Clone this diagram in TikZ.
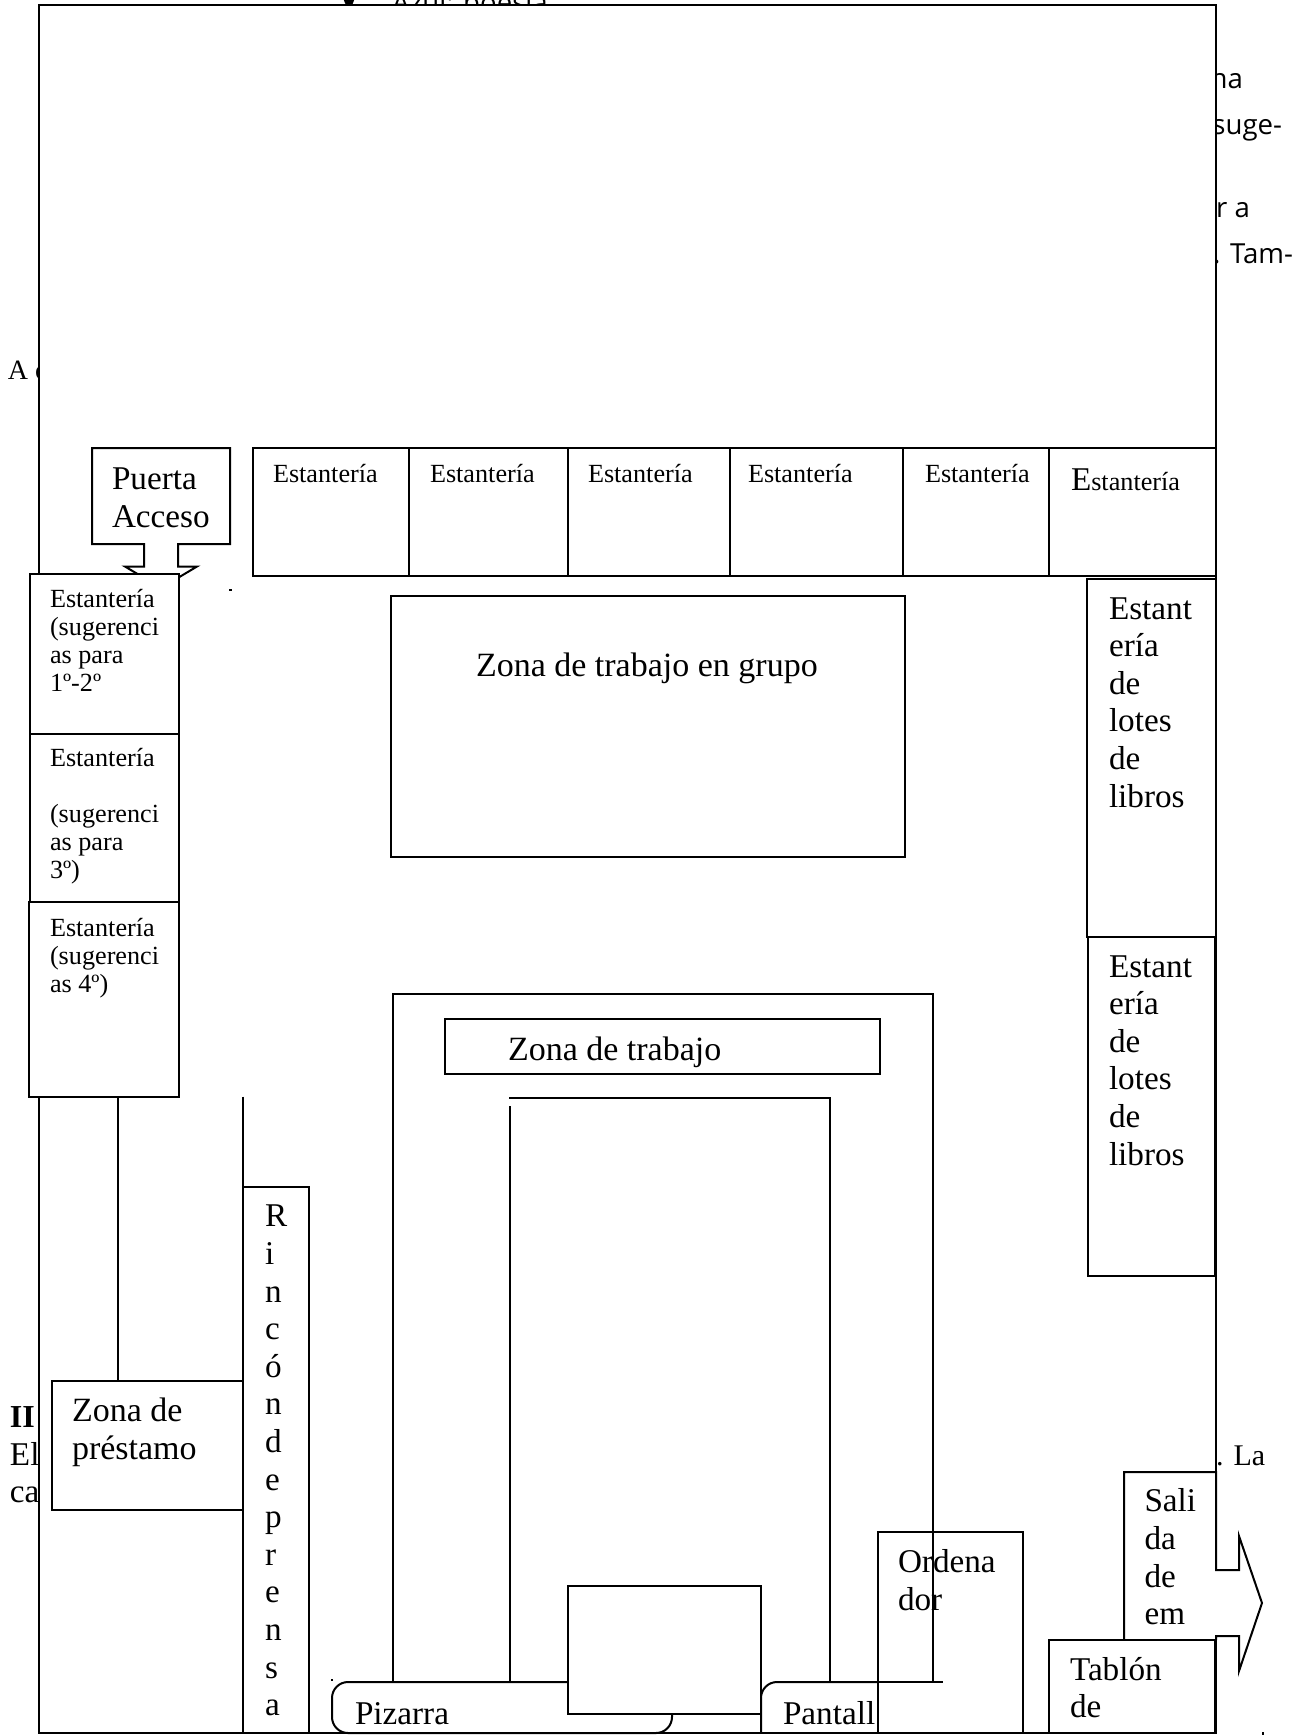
\documentclass[tikz,border=0pt]{standalone}
\usepackage{fontspec}
\setmainfont{Liberation Serif}
\newfontfamily\bodysans{Open Sans}
\tikzset{
  plan/.style={draw=black,line width=1pt,fill=white,line join=miter},
  wall/.style={draw=black,line width=1pt},
  big/.style={inner sep=0pt,outer sep=0pt,anchor=base west,align=left,font=\fontsize{16.6}{18.8}\selectfont},
  small/.style={inner sep=0pt,outer sep=0pt,anchor=base west,align=left,font=\fontsize{13.1}{14}\selectfont},
  frag/.style={inner sep=0pt,outer sep=0pt,anchor=base east,font=\bodysans\fontsize{13.8}{14}\selectfont}
}
\begin{document}
\begin{tikzpicture}[x=0.5pt,y=-0.5pt]
\useasboundingbox (0,0) rectangle (1306,1735);
% text of the page behind the plan
\fill[black] (349,0) circle (2.6pt);
\node[frag,anchor=base west] (azul) at (392,12) {Azul: poesía};
\node[frag] (na) at (1243,88) {una};
\node[frag] (suge) at (1282,134) {suge-};
\node[frag] (ra) at (1250,217) {ar a};
\node[frag] (tam) at (1293,263) {s. Tam-};
\node[big,font=\fontsize{14}{18.8}\selectfont] (aa) at (8,379) {A c};
\node[big,font=\fontsize{16}{18.8}\selectfont\bfseries] (ii) at (10,1427.7) {II};
\node[big] (el) at (10,1465.7) {El};
\node[big] (ca) at (10,1502.7) {ca};
\node[big,font=\fontsize{15}{18.8}\selectfont] (la) at (1216,1465.7) {. La};
% room
\draw[plan] (39,5) rectangle (1216,1733);
% door
\draw[plan] (92,448) -- (230,448) -- (230,544) -- (178,544) -- (178,566.5) -- (197,566.5) -- (161,588) -- (125,566.5) -- (144,566.5) -- (144,544) -- (92,544) -- cycle;
\node[big] (puerta) at (112,527) {Puerta\\Acceso};
% top shelves
\draw[plan] (253,448) rectangle (409,576);
\draw[plan] (409,448) rectangle (567.5,576);
\draw[plan] (567.5,448) rectangle (730,576);
\draw[plan] (730,448) rectangle (903,576);
\draw[plan] (903,448) rectangle (1049,576);
\draw[plan] (1049,448) rectangle (1216,576);
\node[small] (e1) at (273,482) {Estantería};
\node[small] (e2) at (430,482) {Estantería};
\node[small] (e3) at (588,482) {Estantería};
\node[small] (e4) at (748,482) {Estantería};
\node[small] (e5) at (925,482) {Estantería};
\node[small] (e6) at (1071,490) {{\fontsize{16.6}{14}\selectfont E}stantería};
% left shelves
\draw[plan] (30,574) rectangle (179,733.5);
\draw[plan] (30,733.5) rectangle (179,902);
\draw[plan] (29,902) rectangle (179,1096.5);
\node[small] (l1) at (50,691) {Estantería\\(sugerenci\\as para\\1º-2º};
\node[small] (l2) at (50,878.4) {Estantería\\[14pt](sugerenci\\as para\\3º)};
\node[small] (l3) at (50,992.4) {Estantería\\(sugerenci\\as 4º)};
\fill[black] (229,589) rectangle (232,591);
% right shelves
\draw[plan] (1087,578.7) rectangle (1216,937);
\draw[plan] (1088,937) rectangle (1215,1276);
\node[big] (r1) at (1109,807) {Estant\\ería\\de\\lotes\\de\\libros};
\node[big] (r2) at (1109,1165) {Estant\\ería\\de\\lotes\\de\\libros};
% work zones
\draw[plan] (391,596) rectangle (905,856.5);
\node[big,font=\fontsize{17}{18.8}\selectfont] (grupo) at (476,676) {Zona de trabajo en grupo};
\draw[wall] (393,1682) -- (393,994) -- (933,994) -- (933,1682);
\draw[plan] (445,1019) rectangle (880,1074);
\node[big,font=\fontsize{17}{18.8}\selectfont] (trabajo) at (508,1060) {Zona de trabajo};
\draw[wall] (509,1097.6) -- (830,1097.6) -- (830,1682);
\draw[wall] (510,1106) -- (510,1682);
% lines from the shelves down
\draw[wall] (118,1096.5) -- (118,1381);
\draw[wall] (243,1096.5) -- (243,1187);
% lending zone and press corner
\draw[plan] (52,1381) rectangle (243,1510);
\node[big,font=\fontsize{17}{18.8}\selectfont] (prest) at (72,1459) {Zona de\\préstamo};
\draw[plan] (243,1187) rectangle (309,1733);
\node[big] (rincon) at (265,1715.7) {R\\i\\n\\c\\ó\\n\\d\\e\\p\\r\\e\\n\\s\\a};
% board, central box, screen
\fill[black] (331,1679) rectangle (333,1681);
\draw[plan,rounded corners=8pt] (332,1733) -- (332,1682) -- (672,1682) -- (672,1733) -- cycle;
\node[big] (pizarra) at (355,1724) {Pizarra};
\draw[plan,rounded corners=8pt] (761,1733) -- (761,1682) -- (878,1682);
\draw[wall] (761,1733) -- (878,1733);
\draw[plan] (568,1586) rectangle (761,1714);
\node[big] (pantalla) at (783,1724) {Pantall};
\draw[wall] (830,1682) -- (943,1682);
% computer
\draw[wall] (878,1733) -- (878,1532) -- (1023,1532) -- (1023,1733);
\node[big] (orden) at (898,1610) {Ordena\\dor};
% exit and notice board
\draw[plan] (1124,1640) -- (1124,1472) -- (1216,1472) -- (1216,1570) -- (1239,1570) -- (1239,1536) -- (1262,1603) -- (1239,1671) -- (1239,1636) -- (1216,1636) -- (1216,1640);
\node[big] (salida) at (1144.5,1624.6) {Sali\\da\\de\\em};
\draw[plan] (1049,1640) rectangle (1215,1733);
\node[big] (tablon) at (1070,1717.7) {Tablón\\de};
\fill[black] (1262,1732) rectangle (1264,1735);
\end{tikzpicture}
\end{document}
